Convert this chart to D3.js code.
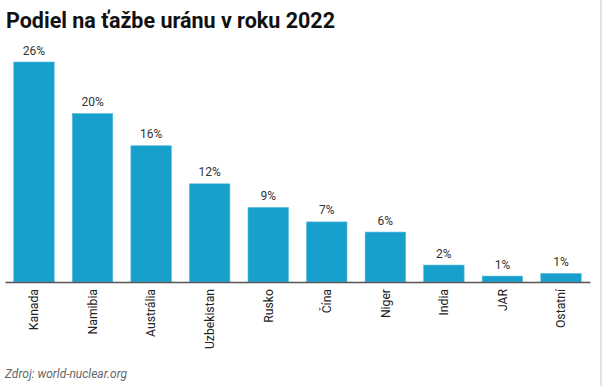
<!DOCTYPE html>
<html><head><meta charset="utf-8">
<script src="https://cdn.jsdelivr.net/npm/d3@7"></script>
<style>body{margin:0;background:#fff;}svg{display:block;font-family:Roboto,"Noto Sans",sans-serif;}</style>
</head><body>
<script>
const categories = ["Kanada","Namibia","Austrália","Uzbekistan","Rusko","Čína","Niger","India","JAR","Ostatní"];
const values = [26, 19.9, 16.1, 11.6, 8.8, 7.1, 5.9, 2.0, 0.7, 1.0];
const labels = ["26%","20%","16%","12%","9%","7%","6%","2%","1%","1%"];
const title = "Podiel na ťažbe uránu v roku 2022";
const source = "Zdroj: world-nuclear.org";

const W = 602, H = 386;
const svg = d3.select("body").append("svg").attr("width", W).attr("height", H);
svg.append("rect").attr("x",600).attr("y",0).attr("width",2).attr("height",H).attr("fill","#e2e2e2");

svg.append("text").attr("x",6).attr("y",28).attr("font-size",21.5).attr("font-weight",700)
  .attr("fill","#111").text(title);

const x = d3.scaleBand().domain(categories).range([5,590]).paddingInner(0.31).paddingOuter(0.15);
const y = d3.scaleLinear().domain([0,26]).range([282,62]);

svg.selectAll("rect.bar").data(values).join("rect").attr("class","bar")
  .attr("x",(d,i)=>x(categories[i])).attr("width",x.bandwidth())
  .attr("y",d=>y(d)).attr("height",d=>y(0)-y(d))
  .attr("fill","#18a0cc").attr("stroke","#4db8dc").attr("stroke-width",0.6);

svg.selectAll("text.val").data(values).join("text").attr("class","val")
  .attr("x",(d,i)=>x(categories[i])+x.bandwidth()/2).attr("y",d=>y(d)-7.5)
  .attr("text-anchor","middle").attr("font-size",12).attr("fill","#333")
  .text((d,i)=>labels[i]);

const ax = svg.append("g").attr("transform","translate(0,282)")
  .call(d3.axisBottom(x).tickSize(0).tickPadding(0));
ax.select(".domain").attr("stroke","#555").attr("stroke-width",1.5);
ax.selectAll(".tick text").attr("font-size",12.2).attr("fill","#222")
  .attr("font-family","Roboto, sans-serif")
  .attr("transform","rotate(-90)").attr("text-anchor","end")
  .attr("x",-7).attr("y",0).attr("dy","0.35em");

svg.append("text").attr("x",5).attr("y",378).attr("font-size",12).attr("font-style","italic")
  .attr("fill","#666").text(source);
</script>
</body></html>
